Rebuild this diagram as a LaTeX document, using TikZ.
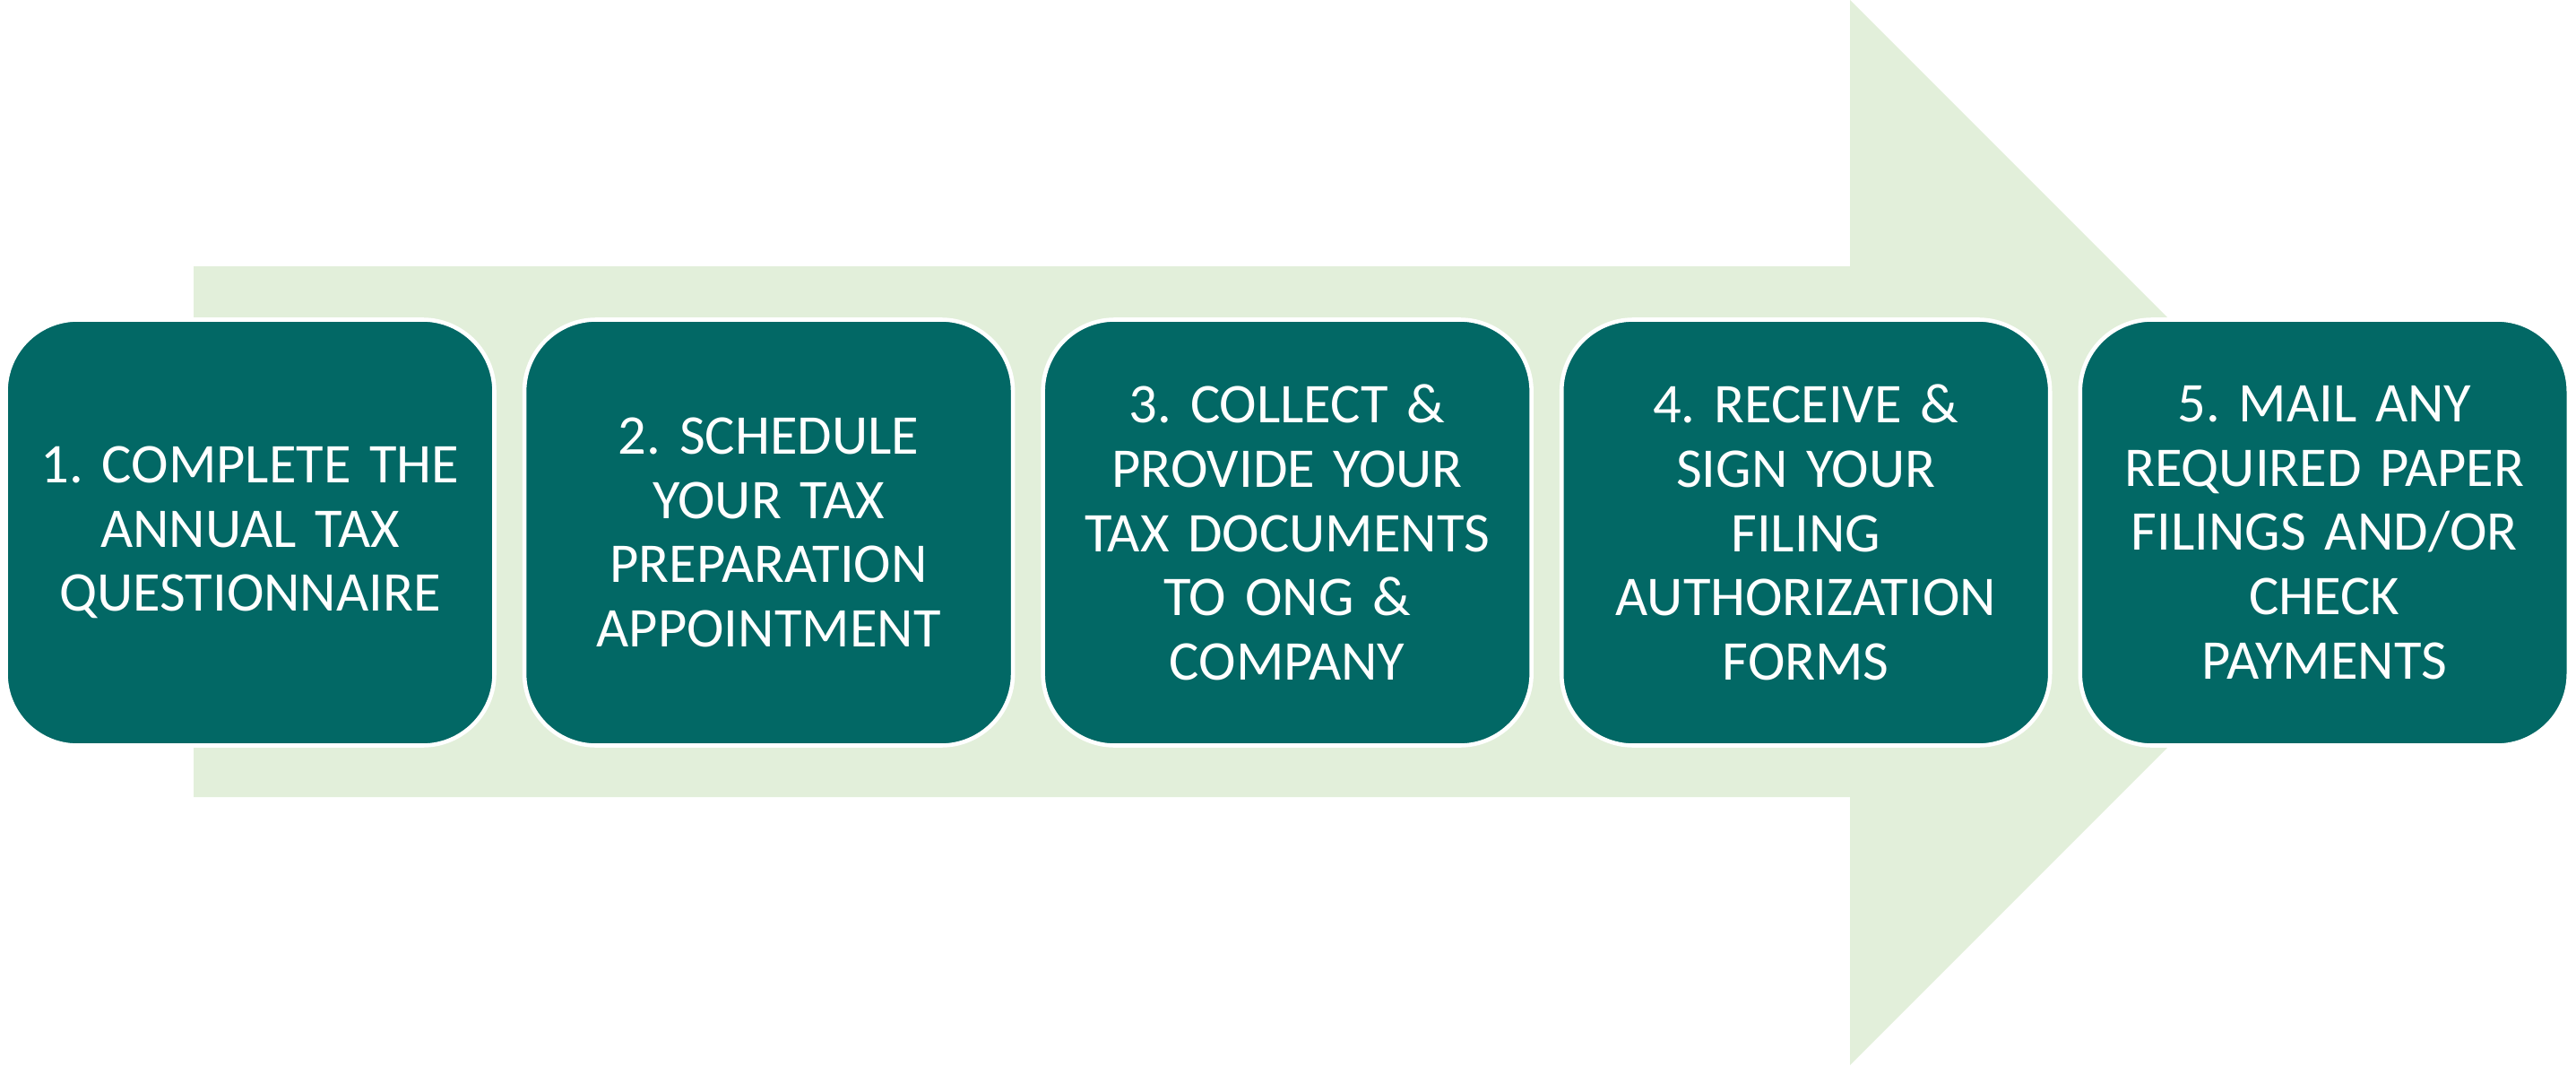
\documentclass[tikz,border=0pt]{standalone}
\usepackage{fontspec}
\setmainfont{Carlito}
\usetikzlibrary{positioning}
\definecolor{arrowgreen}{RGB}{226,239,218}
\definecolor{stepteal}{RGB}{2,104,101}
\frenchspacing
\begin{document}
\begin{tikzpicture}[stepbox/.style={draw=white, line width=1.3pt, fill=stepteal, rounded corners=0.8cm,
    minimum width=5.45cm, minimum height=4.75cm, text width=5.2cm, align=center, text=white,
    font=\fontsize{17.8}{20.4}\selectfont}, node distance=0.29cm]
    \useasboundingbox (0,0) rectangle (28.74,11.88);

% big arrow behind the steps
  \fill[arrowgreen] (2.16,2.99) -- (20.64,2.99) -- (20.64,0) -- (26.58,5.94) -- (20.64,11.88) -- (20.64,8.91) -- (2.16,8.91) -- cycle;

\node[stepbox] (complete) at (2.79,5.94) {1. COMPLETE THE\\ANNUAL TAX\\QUESTIONNAIRE};
\node[stepbox, right=of complete] (schedule) {2. SCHEDULE\\YOUR TAX\\PREPARATION\\APPOINTMENT};
\node[stepbox, right=of schedule] (collect) {3. COLLECT \&\\PROVIDE YOUR\\TAX DOCUMENTS\\TO ONG \&\\COMPANY};
\node[stepbox, right=of collect] (receive) {4. RECEIVE \&\\SIGN YOUR\\FILING\\AUTHORIZATION\\FORMS};
\node[stepbox, right=of receive] (mail) {5. MAIL ANY\\REQUIRED PAPER\\FILINGS AND/OR\\CHECK\\PAYMENTS};

\end{tikzpicture}
\end{document}
